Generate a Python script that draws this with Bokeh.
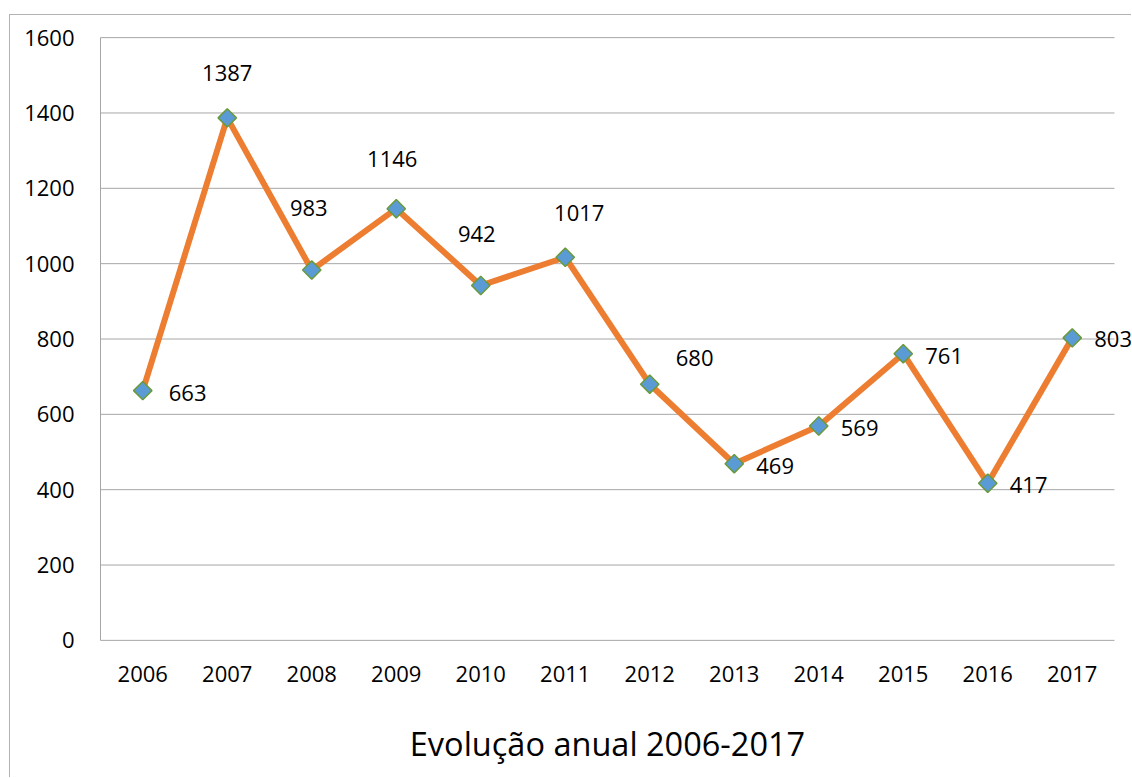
import math
from bokeh.plotting import figure
from bokeh.models import ColumnDataSource, FixedTicker, LabelSet, Range1d
from bokeh.core.properties import value, field
from bokeh.embed import file_html
from bokeh.resources import INLINE

# ---- data ----
years = ["2006", "2007", "2008", "2009", "2010", "2011",
         "2012", "2013", "2014", "2015", "2016", "2017"]
counts = [663, 1387, 983, 1146, 942, 1017, 680, 469, 569, 761, 417, 803]
y_ticks = [0, 200, 400, 600, 800, 1000, 1200, 1400, 1600]
axis_title = "Evolução anual 2006-2017"

# ---- label nudges (screen pixels, style only; positive dy = up) ----
label_dx = [26, 0, -3, -4, -4, 14, 26, 22, 22, 22, 22, 22]
label_dy = [-2, 45, 62, 50, 52, 44, 26, -2, -2, -2, -2, -1]
label_align = ["left", "center", "center", "center", "center", "center",
               "left", "left", "left", "left", "left", "left"]

FONT = "Open Sans"
GRID = "#a6a6a6"

# layout (pixels)
W, H = 1122, 763
LEFT, RIGHT, TOP, BOTTOM = 72, 0, 21, 137
AXIS_X = 90            # canvas x of the value axis line
PLOT_W = 1014          # width occupied by the 12 category slots
n = len(years)
UNIT = PLOT_W / n
xpos = [i + 0.5 for i in range(n)]          # category centres

src = ColumnDataSource(dict(
    x=xpos, y=counts, txt=[str(v) for v in counts],
    dx=label_dx, dy=label_dy, al=label_align,
))

p = figure(
    x_range=Range1d(-(AXIS_X - LEFT) / UNIT, (W - RIGHT - AXIS_X) / UNIT),
    y_range=Range1d(-3, 1603),
    width=W, height=H,
    output_backend="svg", toolbar_location=None,
    min_border_left=LEFT, min_border_right=RIGHT,
    min_border_top=TOP, min_border_bottom=BOTTOM,
)
p.margin = (14, 0, 0, 9)
p.styles = {"border-left": "1px solid #b3b3b3", "border-top": "1px solid #b3b3b3"}

p.outline_line_color = None
p.background_fill_color = "white"
p.border_fill_color = "white"

p.xgrid.grid_line_color = None
p.ygrid.grid_line_color = None
p.yaxis.ticker = FixedTicker(ticks=y_ticks)
p.xaxis.ticker = FixedTicker(ticks=xpos)
p.xaxis.major_label_overrides = {x: yr for x, yr in zip(xpos, years)}

# horizontal gridlines and axis lines limited to the category area
p.segment(x0=0, x1=n, y0=y_ticks, y1=y_ticks, line_color=GRID, line_width=1)
p.segment(x0=[0], x1=[0], y0=[y_ticks[0]], y1=[y_ticks[-1]], line_color=GRID, line_width=1)

for ax in (p.xaxis, p.yaxis):
    ax.axis_line_color = None
    ax.major_tick_line_color = None
    ax.minor_tick_line_color = None
    ax.major_label_text_font = FONT
    ax.major_label_text_font_size = "22px"
    ax.major_label_text_color = "black"

p.yaxis.major_label_standoff = 2
p.xaxis.major_label_standoff = 18
p.xaxis.axis_label = axis_title
p.xaxis.axis_label_text_font = FONT
p.xaxis.axis_label_text_font_size = "32.5px"
p.xaxis.axis_label_text_font_style = "normal"
p.xaxis.axis_label_text_color = "black"
p.xaxis.axis_label_standoff = 36

p.line("x", "y", source=src, line_color="#ED7D31", line_width=6, line_join="round")
p.scatter("x", "y", source=src, marker="square", size=13, angle=math.pi / 4,
          fill_color="#5B9BD5", line_color="#6A9A3A", line_width=1.5)

labels = LabelSet(x="x", y="y", text="txt", source=src,
                  x_offset=field("dx"), y_offset=field("dy"),
                  text_align=field("al"), text_baseline="middle",
                  text_font=value(FONT), text_font_size="22px", text_color="black")
p.add_layout(labels)

open("out.html", "w").write(file_html(p, INLINE))
